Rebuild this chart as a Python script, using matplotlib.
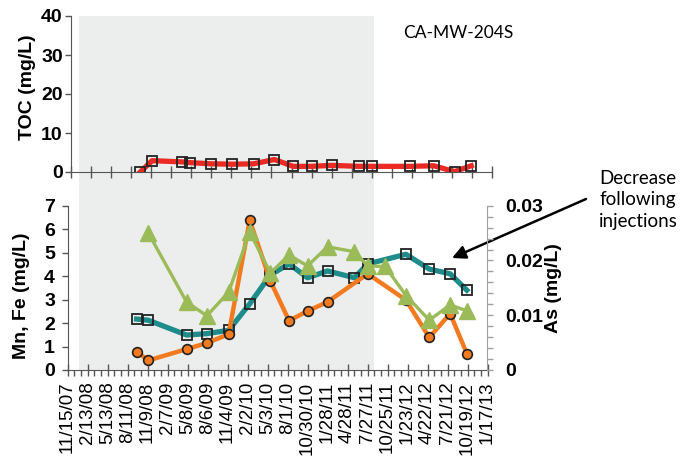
import matplotlib
matplotlib.use("Agg")
import matplotlib.pyplot as plt
import matplotlib.dates as mdates
import matplotlib.transforms as mtransforms
from matplotlib.patches import Rectangle
from matplotlib.ticker import FixedLocator, MultipleLocator
import pandas as pd
import numpy as np

# ---------------- data ----------------
tick_labels = ['11/15/07', '2/13/08', '5/13/08', '8/11/08', '11/9/08', '2/7/09',
               '5/8/09', '8/6/09', '11/4/09', '2/2/10', '5/3/10', '8/1/10',
               '10/30/10', '1/28/11', '4/28/11', '7/27/11', '10/25/11', '1/23/12',
               '4/22/12', '7/21/12', '10/19/12', '1/17/13']

toc_dates = ['2008-09-21', '2008-11-13', '2009-03-26', '2009-05-04', '2009-08-03',
             '2009-11-09', '2010-02-12', '2010-05-16', '2010-08-08', '2010-10-30',
             '2011-01-28', '2011-05-29', '2011-07-28', '2012-01-16', '2012-04-30',
             '2012-08-02', '2012-10-16']
toc = [0.0, 2.9, 2.6, 2.4, 2.1, 2.0, 2.1, 3.2, 1.45, 1.45, 1.7, 1.45, 1.45,
       1.45, 1.6, 0.1, 1.6]

mn_dates = ['2008-09-21', '2008-11-13', '2009-05-04', '2009-08-03', '2009-11-09',
            '2010-02-12', '2010-05-16', '2010-08-08', '2010-10-30', '2011-01-28',
            '2011-05-29', '2011-07-28', '2012-01-16', '2012-04-30', '2012-08-02',
            '2012-10-16']
mn = [2.17, 2.12, 1.49, 1.55, 1.69, 2.82, 4.05, 4.52, 3.93, 4.22, 3.93, 4.52,
      4.93, 4.30, 4.10, 3.40]

fe_dates = ['2008-09-21', '2008-11-13', '2009-05-04', '2009-08-03', '2009-11-09',
            '2010-02-12', '2010-05-16', '2010-08-08', '2010-10-30', '2011-01-28',
            '2011-07-28', '2012-01-16', '2012-04-30', '2012-08-02', '2012-10-16']
fe = [0.78, 0.41, 0.89, 1.15, 1.52, 6.38, 3.79, 2.10, 2.51, 2.90, 4.10, 2.98,
      1.39, 2.40, 0.70]

as_dates = ['2008-11-13', '2009-05-04', '2009-08-03', '2009-11-09', '2010-02-12',
            '2010-05-16', '2010-08-08', '2010-10-30', '2011-01-28', '2011-05-29',
            '2011-07-28', '2011-10-15', '2012-01-16', '2012-04-30', '2012-08-02',
            '2012-10-16']
arsenic = [0.0250, 0.0124, 0.0099, 0.0142, 0.0252, 0.0177, 0.0210, 0.0190,
           0.0225, 0.0216, 0.0190, 0.0189, 0.0136, 0.0091, 0.0119, 0.0108]

shade_start, shade_end = '2008-01-05', '2011-08-27'

# ---------------- style ----------------
RED = '#EC2A24'
TEAL = '#1F8C8C'
ORANGE = '#F47A20'
GREEN = '#9BBB59'
SHADE = '#ECEEEE'
SPINE = '#555555'
RSPINE = '#A0A0A0'
FONT = 'Liberation Sans'

W, H = 694, 462
fig = plt.figure(figsize=(W / 100, H / 100), dpi=100)


def px_axes(l, r, t, b):
    return fig.add_axes([l / W, 1 - b / H, (r - l) / W, (b - t) / H])


def num(dates):
    return mdates.date2num(pd.to_datetime(dates))


tick_dates = pd.to_datetime(tick_labels, format='%m/%d/%y')
tick_pos = mdates.date2num(tick_dates)
xmin, xmax = tick_pos[0], tick_pos[-1]

ax1 = px_axes(71, 492, 16, 172)     # TOC
ax2 = px_axes(67.5, 487.5, 205.7, 370)  # Mn, Fe
ax3 = ax2.twinx()                   # As

for ax in (ax1, ax2, ax3):
    ax.set_facecolor('none')
    for s in ('top', 'right', 'left', 'bottom'):
        ax.spines[s].set_visible(False)

# shaded period spanning both panels
shade_tr = mtransforms.blended_transform_factory(ax2.transData, fig.transFigure)
x0, x1 = num([shade_start, shade_end])
fig.patches.append(Rectangle((x0, 1 - 370 / H), x1 - x0, (370 - 16) / H,
                             transform=shade_tr, facecolor=SHADE,
                             edgecolor='none', zorder=-5))

# ---------- top panel: TOC ----------
ax1.plot(num(toc_dates), toc, color=RED, lw=3.8, marker='s', ms=6.5,
         mfc='none', mec='#222222', mew=1.3, solid_joinstyle='round')
ax1.set_xlim(xmin, xmax)
ax1.set_ylim(0, 40)
ax1.spines['left'].set_visible(True)
ax1.spines['bottom'].set_visible(True)
ax1.spines['left'].set_color(SPINE)
ax1.spines['bottom'].set_color(SPINE)
ax1.xaxis.set_major_locator(FixedLocator(tick_pos))
ax1.set_xticklabels([])
ax1.tick_params(axis='x', direction='inout', length=8.6, width=1, color=SPINE)
ax1.set_yticks([0, 10, 20, 30, 40])
ax1.tick_params(axis='y', direction='out', length=4, width=1, color=SPINE, pad=2)
for lab in ax1.get_yticklabels():
    lab.set_fontfamily(FONT)
    lab.set_fontweight('bold')
    lab.set_fontsize(14)

# ---------- bottom panel: Mn, Fe ----------
ax2.plot(num(mn_dates), mn, color=TEAL, lw=3.8, marker='s', ms=6.5,
         mfc='none', mec='#222222', mew=1.3, zorder=3)
ax2.plot(num(fe_dates), fe, color=ORANGE, lw=3.2, marker='o', ms=7,
         mfc=ORANGE, mec='#222222', mew=1.2, zorder=4)
ax2.set_xlim(xmin, xmax)
ax2.set_ylim(0, 7)
ax2.spines['left'].set_visible(True)
ax2.spines['bottom'].set_visible(True)
ax2.spines['left'].set_color(SPINE)
ax2.spines['bottom'].set_color(SPINE)
ax2.xaxis.set_major_locator(FixedLocator(tick_pos))
ax2.xaxis.set_minor_locator(FixedLocator(np.arange(xmin, xmax + 1, 30)))
ax2.set_xticklabels(tick_labels, rotation=90, fontfamily=FONT, fontsize=13.5)
ax2.tick_params(axis='x', which='major', direction='inout', length=8.6,
                width=1, color=SPINE, pad=4)
ax2.tick_params(axis='x', which='minor', direction='out', length=4,
                width=1, color=SPINE)
ax2.set_yticks(range(0, 8))
ax2.tick_params(axis='y', direction='out', length=4, width=1, color=SPINE, pad=5)
for lab in ax2.get_yticklabels():
    lab.set_fontfamily(FONT)
    lab.set_fontweight('bold')
    lab.set_fontsize(14)

# ---------- right axis: As ----------
ax3.plot(num(as_dates), arsenic, color=GREEN, lw=2.4, marker='^', ms=11,
         mfc=GREEN, mec=GREEN, zorder=5)
ax3.set_ylim(0, 0.03)
ax3.spines['right'].set_visible(True)
ax3.spines['right'].set_color(RSPINE)
ax3.set_yticks([0, 0.01, 0.02, 0.03])
ax3.set_yticklabels(['0', '0.01', '0.02', '0.03'])
ax3.yaxis.set_minor_locator(MultipleLocator(0.002))
ax3.tick_params(axis='y', which='both', direction='out', length=4, width=1,
                color=RSPINE, pad=9)
for lab in ax3.get_yticklabels():
    lab.set_fontfamily(FONT)
    lab.set_fontweight('bold')
    lab.set_fontsize(14)

# ---------- axis titles and annotations ----------
def ftext(x, y, s, **kw):
    fig.text(x / W, 1 - y / H, s, **kw)

ftext(27, 87, 'TOC (mg/L)', rotation=90, ha='center', va='center',
      fontfamily=FONT, fontweight='bold', fontsize=14)
ftext(22, 296, 'Mn, Fe (mg/L)', rotation=90, ha='center', va='center',
      fontfamily=FONT, fontweight='bold', fontsize=14)
ftext(553, 288, 'As (mg/L)', rotation=90, ha='center', va='center',
      fontfamily=FONT, fontweight='bold', fontsize=14)

ftext(403, 33, 'CA-MW-204S', ha='left', va='center', fontfamily='Lato',
      fontsize=12.5)
ftext(599, 200, 'Decrease\nfollowing\ninjections', ha='left', va='center',
      fontfamily='Lato', fontsize=13.5, linespacing=1.3)

ax2.annotate('', xy=(452, H - 258), xytext=(586, H - 199),
             xycoords='figure pixels', textcoords='figure pixels',
             arrowprops=dict(arrowstyle='-|>', lw=1.8, color='black',
                             mutation_scale=20, shrinkA=0, shrinkB=0))

fig.savefig('out.png', dpi=100)
